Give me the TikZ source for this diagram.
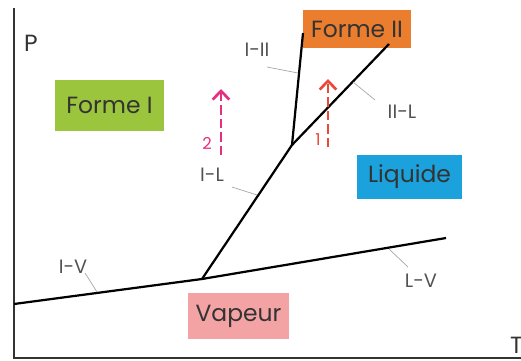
\documentclass[tikz,border=0pt]{standalone}
\usepackage{fontspec}
\setmainfont{Poppins}
\usepackage{tikz}
\usetikzlibrary{positioning,arrows.meta}
\definecolor{fgreen}{HTML}{9BC53D}
\definecolor{forange}{HTML}{EB7D2E}
\definecolor{fblue}{HTML}{1BA1DB}
\definecolor{fpink}{HTML}{F4A3A5}
\definecolor{fmagenta}{HTML}{E6307F}
\definecolor{fred}{HTML}{E9483A}
\definecolor{ftext}{HTML}{333333}

\begin{document}
\begin{tikzpicture}[x=0.03cm,y=-0.03cm,
  phase/.style={rectangle,inner sep=0pt,text=ftext,font=\fontsize{20}{24}\selectfont},
  lbl/.style={inner sep=0pt,text=ftext!85,font=\fontsize{16.5}{19}\selectfont},
  lead/.style={draw=black!35,line width=0.6pt},
  curve/.style={draw=black,line width=1.9pt},
  path1/.style={dashed,dash pattern=on 8pt off 3.5pt,line width=2.3pt,-{Straight Barb[length=2.6mm,width=5mm]}},
  num/.style={inner sep=0pt,font=\fontsize{14}{16}\selectfont}]
  \useasboundingbox (0,0) rectangle (521,361);
  % axes
  \coordinate (o) at (14,358);
  \draw[ftext,line width=1.8pt] (14,8) -- (o) -- (521,358);
  \node[phase] (P) at (31,43) {P};
  \node[phase,anchor=east] (T) at (523,345) {T};
  % phases
  \node[phase,fill=fgreen,minimum width=3.27cm,minimum height=1.53cm] (f1) at (109.5,105.5) {Forme I};
  \node[phase,fill=forange,minimum width=3.24cm,minimum height=1.14cm] (f2) at (357,29) {Forme II};
  \node[phase,fill=fblue,minimum width=3.15cm,minimum height=1.32cm] (liq) at (409.5,177) {Liquide};
  \node[phase,fill=fpink,minimum width=3.03cm,minimum height=1.38cm] (vap) at (238.5,316) {Vapeur};
  % equilibrium curves
  \coordinate (v0) at (14,304);
  \coordinate (tp) at (202,279);
  \coordinate (v1) at (446,238);
  \coordinate (qp) at (292,145);
  \coordinate (c12) at (303,33);
  \coordinate (c2l) at (389,44);
  \draw[curve] (v0) -- (tp) -- (v1);
  \draw[curve] (tp) -- (qp) -- (c12);
  \draw[curve] (qp) -- (c2l);
  % curve labels
  \node[lbl] (iv) at (73,267) {I-V};
  \node[lbl] (lv) at (421,281) {L-V};
  \node[lbl] (il) at (212,175) {I-L};
  \node[lbl] (iii) at (257,50) {I-II};
  \node[lbl] (iil) at (402,112) {II-L};
  \coordinate (iv') at (97,292);
  \coordinate (lv') at (389,249);
  \coordinate (il') at (257,195);
  \coordinate (iii') at (298,73);
  \coordinate (iil') at (353,82);
  \draw[lead] (85,273) -- (iv');
  \draw[lead] (408,267) -- (lv');
  \draw[lead] (232,187) -- (il');
  \draw[lead] (267,67) -- (iii');
  \draw[lead] (375,100) -- (iil');
  % transformations
  \coordinate (a2) at (221,155);
  \coordinate (b2) at (221,89);
  \coordinate (a1) at (328,147);
  \coordinate (b1) at (328,79);
  \draw[path1,fmagenta] (a2) -- (b2);
  \draw[path1,fred] (a1) -- (b1);
  \node[num,text=fmagenta] (n2) at (207,143) {2};
  \node[num,text=fred] (n1) at (318,140) {1};
\end{tikzpicture}
\end{document}
